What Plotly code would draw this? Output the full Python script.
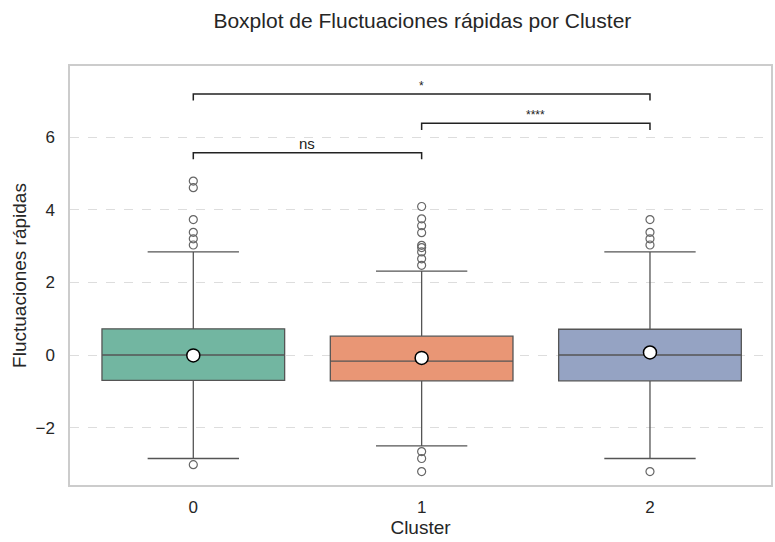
import plotly.graph_objects as go

clusters = [0, 1, 2]
q1 = [-0.70, -0.71, -0.71]
median = [0.0, -0.17, 0.0]
q3 = [0.72, 0.52, 0.71]
lower_fence = [-2.85, -2.50, -2.85]
upper_fence = [2.84, 2.31, 2.84]
means = [-0.01, -0.08, 0.07]
outliers = [
    [4.79, 4.61, 3.73, 3.38, 3.20, 3.03, -3.02],
    [4.09, 3.75, 3.56, 3.37, 3.02, 2.96, 2.84, 2.65, 2.47, -2.66, -2.85, -3.21],
    [3.73, 3.38, 3.20, 3.03, -3.21],
]
colors = ["#72b6a1", "#e99675", "#95a3c3"]

# significance brackets: (from, to, height, label)
brackets = [(0, 1, 5.57, "ns"), (1, 2, 6.38, "****"), (0, 2, 7.19, "*")]
tick_drop = 0.18

font_family = "Liberation Sans, Arial, sans-serif"
line_col = "#555555"

fig = go.Figure()
for i, c in enumerate(clusters):
    fig.add_trace(go.Box(
        x=[c], q1=[q1[i]], median=[median[i]], q3=[q3[i]],
        lowerfence=[lower_fence[i]], upperfence=[upper_fence[i]],
        width=0.8, whiskerwidth=0.5, fillcolor=colors[i],
        line=dict(color=line_col, width=1.3), boxpoints=False,
        showlegend=False, hoverinfo="skip",
    ))
    fig.add_trace(go.Scatter(
        x=[c] * len(outliers[i]), y=outliers[i], mode="markers",
        marker=dict(symbol="circle-open", size=8, color="#666666", line=dict(width=1.2)),
        showlegend=False, hoverinfo="skip",
    ))

fig.add_trace(go.Scatter(
    x=clusters, y=means, mode="markers",
    marker=dict(symbol="circle", size=13, color="white", line=dict(color="black", width=1.5)),
    showlegend=False, hoverinfo="skip",
))

for a, b, h, lab in brackets:
    fig.add_trace(go.Scatter(
        x=[a, a, b, b], y=[h - tick_drop, h, h, h - tick_drop], mode="lines",
        line=dict(color="#222222", width=1.5), showlegend=False, hoverinfo="skip",
    ))
    fig.add_annotation(
        x=(a + b) / 2, y=h, text=lab, showarrow=False, yanchor="bottom", yshift=-1,
        font=dict(size=15 if lab == "ns" else 12, color="#222222", family=font_family),
    )

fig.update_layout(
    width=775, height=542,
    margin=dict(l=70, r=2, t=66, b=57),
    paper_bgcolor="white", plot_bgcolor="white",
    font=dict(family=font_family, size=17, color="#262626"),
    title=dict(text="Boxplot de Fluctuaciones rápidas por Cluster", x=0.545, xanchor="center",
               y=0.962, yanchor="middle", font=dict(size=21, color="#262626")),
    xaxis=dict(
        range=[-0.54, 2.53], tickmode="array", tickvals=clusters, ticktext=[str(c) for c in clusters],
        showgrid=False, zeroline=False, showline=True, linecolor="#cccccc", linewidth=1.5, mirror=True,
        title=dict(text="Cluster", font=dict(size=19), standoff=2), ticks="", ticklabelstandoff=6,
        tickfont=dict(size=17),
    ),
    yaxis=dict(
        range=[-3.58, 7.96], tickvals=[-2, 0, 2, 4, 6], ticktext=["−2", "0", "2", "4", "6"],
        showgrid=True, gridcolor="#dddddd", griddash="dash", gridwidth=1, zeroline=False,
        showline=True, linecolor="#cccccc", linewidth=1.5, mirror=True,
        title=dict(text="Fluctuaciones rápidas", font=dict(size=19), standoff=4), ticks="",
        ticklabelstandoff=10, tickfont=dict(size=17),
    ),
)

fig.write_html("out.html")
